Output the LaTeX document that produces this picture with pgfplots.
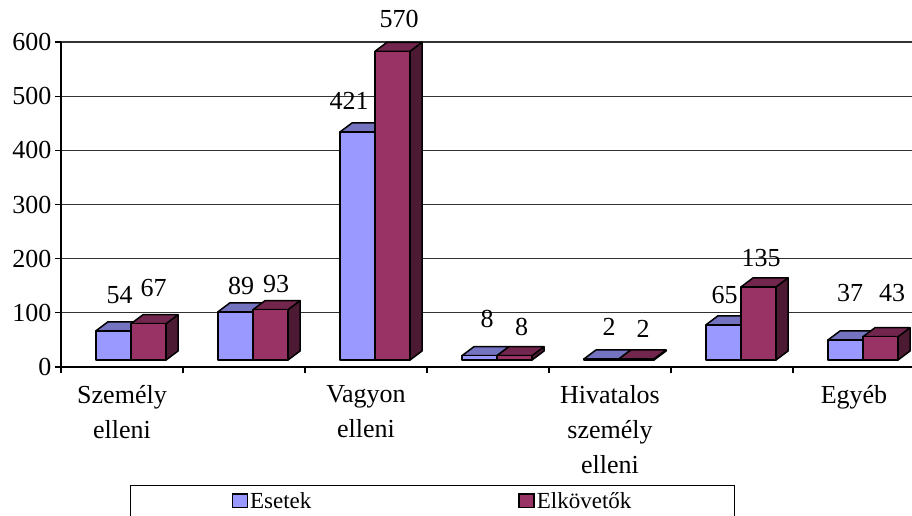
\documentclass[border=0pt]{standalone}
\usepackage{fontspec}
\setmainfont{Liberation Serif}
\usepackage{pgfplots}
\usepackage{pgfplotstable}
\pgfplotsset{compat=1.18}

\definecolor{esFront}{HTML}{9999FF}
\definecolor{esTop}{HTML}{7373C0}
\definecolor{esSide}{HTML}{4D4D80}
\definecolor{elFront}{HTML}{993366}
\definecolor{elTop}{HTML}{73264D}
\definecolor{elSide}{HTML}{4D1A33}

% 3D box drawn around a data point; \bv is the value of the point
% #1 front, #2 top, #3 side colour, #4 shift of the bar centre (pt)
\newcommand\drawbox[4]{%
  \pgfmathsetmacro\xl{#4-17.5}%
  \pgfmathsetmacro\xr{#4+17.5}%
  \pgfmathsetmacro\yb{7-\bv*0.541667}%
  \pgfmathsetmacro\xd{\xr+12}%
  \pgfmathsetmacro\xld{\xl+12}%
  \pgfmathsetmacro\ybd{\yb+9}%
  \pgfsetlinewidth{1.5pt}%
  \pgfsetroundjoin
  \pgfsetstrokecolor{black}%
  % side
  \pgfsetfillcolor{#3}%
  \pgfpathmoveto{\pgfpoint{\xr pt}{\yb pt}}%
  \pgfpathlineto{\pgfpoint{\xr pt}{7pt}}%
  \pgfpathlineto{\pgfpoint{\xd pt}{16pt}}%
  \pgfpathlineto{\pgfpoint{\xd pt}{\ybd pt}}%
  \pgfpathclose
  \pgfusepath{fill,stroke}%
  % top
  \pgfsetfillcolor{#2}%
  \pgfpathmoveto{\pgfpoint{\xl pt}{7pt}}%
  \pgfpathlineto{\pgfpoint{\xr pt}{7pt}}%
  \pgfpathlineto{\pgfpoint{\xd pt}{16pt}}%
  \pgfpathlineto{\pgfpoint{\xld pt}{16pt}}%
  \pgfpathclose
  \pgfusepath{fill,stroke}%
  % front
  \pgfsetfillcolor{#1}%
  \pgfpathrectanglecorners{\pgfpoint{\xl pt}{\yb pt}}{\pgfpoint{\xr pt}{7pt}}%
  \pgfusepath{fill,stroke}%
}
\pgfdeclareplotmark{boxA}{\drawbox{esFront}{esTop}{esSide}{-8.5}}
\pgfdeclareplotmark{boxB}{\drawbox{elFront}{elTop}{elSide}{26.5}}

% x = category, y = value, lx/ly = label offset (pt)
\pgfplotstableread{
x y lx ly
1 54 -2.5 33.8
2 89 -3 23.8
3 421 -17 29
4 8 -1 34.7
5 2 -1 29.9
6 65 -7.4 27.8
7 37 -4 45
}\esetek
\pgfplotstableread{
x y lx ly
1 67 31.5 33.7
2 93 32 23.6
3 570 33 30.3
4 8 33.5 26.7
5 2 33 27.9
6 135 29 26.9
7 43 38 41.7
}\elkovetok

\begin{document}
\begin{tikzpicture}
\path[use as bounding box] (-61pt,-149pt) rectangle (851pt,367pt);
\begin{axis}[
  scale only axis,
  width=851pt, height=325pt,
  xmin=0.5, xmax=7.4754,
  ymin=0, ymax=600,
  clip=false,
  axis x line*=bottom,
  axis y line*=left,
  axis line style={line width=1.2pt, black},
  xtick={0.5,1.5,...,6.5},
  xticklabels={},
  extra x ticks={1,3,5,7},
  extra x tick labels={Személy\\elleni,Vagyon\\elleni,Hivatalos\\személy\\elleni,Egyéb},
  extra x tick style={major tick length=0pt, grid=none},
  xticklabel style={font=\fontsize{26}{35}\selectfont, align=center, yshift=-15pt},
  ytick={0,100,...,600},
  yticklabel style={font=\fontsize{26}{30}\selectfont},
  /pgf/number format/assume math mode=true,
  ymajorgrids,
  major grid style={black!80, line width=1.2pt},
  tick align=outside,
  major tick length=6pt,
  tick style={black, line width=1.2pt},
  legend columns=2,
  legend style={at={(0.4366,0)}, anchor=north, yshift=-118pt,
    draw=black, line width=1pt,
    font=\fontsize{23}{27}\selectfont,
    inner xsep=101pt, inner ysep=5pt,
    /tikz/every even column/.append style={column sep=205pt}},
  nodes near coords={\pgfmathprintnumber{\bv}},
  every node near coord/.append style={font=\fontsize{26}{30}\selectfont,
    inner sep=0pt, text depth=0pt, anchor=south,
    xshift=\lx pt, yshift=\ly pt, black},
]
\addplot[scatter, only marks, mark=boxA,
  visualization depends on={rawy \as \bv},
  visualization depends on={\thisrow{lx} \as \lx},
  visualization depends on={\thisrow{ly} \as \ly},
  legend image code/.code={\filldraw[fill=esFront, draw=black, line width=1.5pt] (0pt,-6.5pt) rectangle (15pt,7pt);}]
  table[x=x, y=y] {\esetek};
\addlegendentry{Esetek}
\addplot[scatter, only marks, mark=boxB,
  visualization depends on={rawy \as \bv},
  visualization depends on={\thisrow{lx} \as \lx},
  visualization depends on={\thisrow{ly} \as \ly},
  legend image code/.code={\filldraw[fill=elFront, draw=black, line width=1.5pt] (0pt,-6.5pt) rectangle (15pt,7pt);}]
  table[x=x, y=y] {\elkovetok};
\addlegendentry{Elkövetők}
\end{axis}
\end{tikzpicture}
\end{document}
